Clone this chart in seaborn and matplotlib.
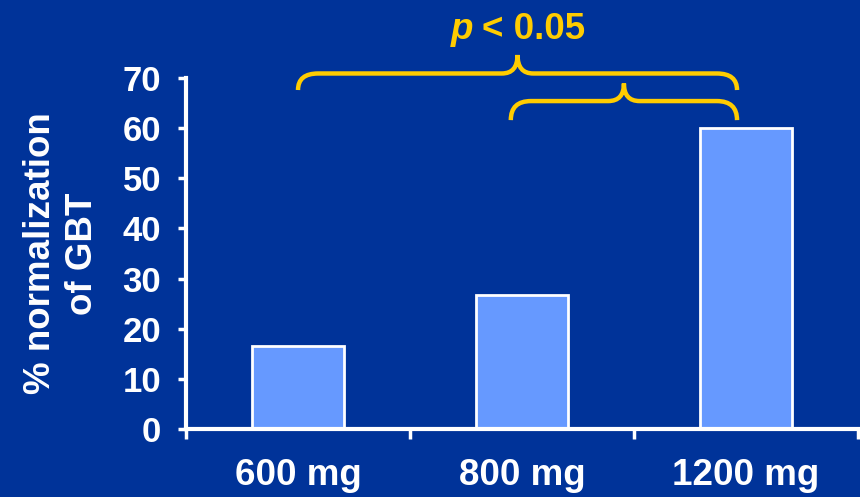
import matplotlib
matplotlib.use("Agg")
import matplotlib.pyplot as plt
from matplotlib.path import Path
from matplotlib.patches import PathPatch
import seaborn as sns
import pandas as pd

# ---- data ----
doses = ["600 mg", "800 mg", "1200 mg"]
normalization = [16.6, 26.7, 60.0]
y_ticks = [0, 10, 20, 30, 40, 50, 60, 70]
y_label = "% normalization\nof GBT"
sig_text = "< 0.05"

BG = "#003399"
BAR = "#6699FF"
YEL = "#FFCC00"
FONT = "Liberation Sans"

sns.set_theme(style="white")
plt.rcParams["font.family"] = [FONT, "DejaVu Sans"]
plt.rcParams["font.weight"] = "bold"

fig = plt.figure(figsize=(8.6, 4.97), dpi=100, facecolor=BG)
W, H = 860, 497
ax = fig.add_axes([186 / W, 1 - 429 / H, (858 - 186) / W, (429 - 78) / H])
ax.set_facecolor(BG)

df = pd.DataFrame({"dose": doses, "val": normalization})
sns.barplot(data=df, x="dose", y="val", color=BAR, edgecolor="white",
            linewidth=2, width=0.41, saturation=1, ax=ax)
for p in ax.patches:
    p.set_facecolor(BAR)

ax.set_xlim(-0.5, 2.5)
ax.set_ylim(0, 70)
ax.set_yticks(y_ticks)
ax.set_yticklabels([str(t) for t in y_ticks])
ax.set_xticks(range(len(doses)))
ax.set_xticklabels(doses)
ax.set_xticks([-0.5, 0.5, 1.5, 2.5], minor=True)
ax.tick_params(axis="x", which="major", length=0, pad=21, labelsize=26.5,
               labelcolor="white")
ax.tick_params(axis="x", which="minor", length=7, width=2.5, color="white",
               direction="out", bottom=True)
ax.tick_params(axis="y", which="major", length=6, width=2.5, color="white",
               direction="out", left=True, pad=12, labelsize=25,
               labelcolor="white")
for lab in ax.get_xticklabels() + ax.get_yticklabels():
    lab.set_fontweight("bold")
ax.set_xlabel("")
ax.set_ylabel(y_label, fontsize=26.5, fontweight="bold", color="white",
              labelpad=16, linespacing=1.25)

for s in ["top", "right"]:
    ax.spines[s].set_visible(False)
for s in ["left", "bottom"]:
    ax.spines[s].set_color("white")
    ax.spines[s].set_linewidth(3)


def brace(x0, x1, xm, y_end, y_h, y_peak, rx=0.09, rm=0.07):
    verts = [
        (x0, y_end), (x0, y_h), (x0 + rx, y_h),
        (xm - rm, y_h), (xm, y_h), (xm, y_peak),
        (xm, y_h), (xm + rm, y_h),
        (x1 - rx, y_h), (x1, y_h), (x1, y_end),
    ]
    codes = [Path.MOVETO, Path.CURVE3, Path.CURVE3,
             Path.LINETO, Path.CURVE3, Path.CURVE3,
             Path.CURVE3, Path.CURVE3,
             Path.LINETO, Path.CURVE3, Path.CURVE3]
    patch = PathPatch(Path(verts, codes), facecolor="none", edgecolor=YEL,
                      linewidth=3.2, clip_on=False, capstyle="butt")
    ax.add_patch(patch)


brace(0.0, 1.96, 0.98, 67.6, 70.9, 74.6)
brace(0.95, 1.96, 1.455, 61.6, 65.4, 68.9, rx=0.09, rm=0.07)

fig.text(473 / W, 1 - 39 / H, "p", color=YEL, fontsize=26.5, fontweight="bold",
         fontstyle="italic", ha="right", va="baseline")
fig.text(482 / W, 1 - 39 / H, sig_text, color=YEL, fontsize=26.5,
         fontweight="bold", ha="left", va="baseline")

fig.savefig("out.png", dpi=100, facecolor=BG)
